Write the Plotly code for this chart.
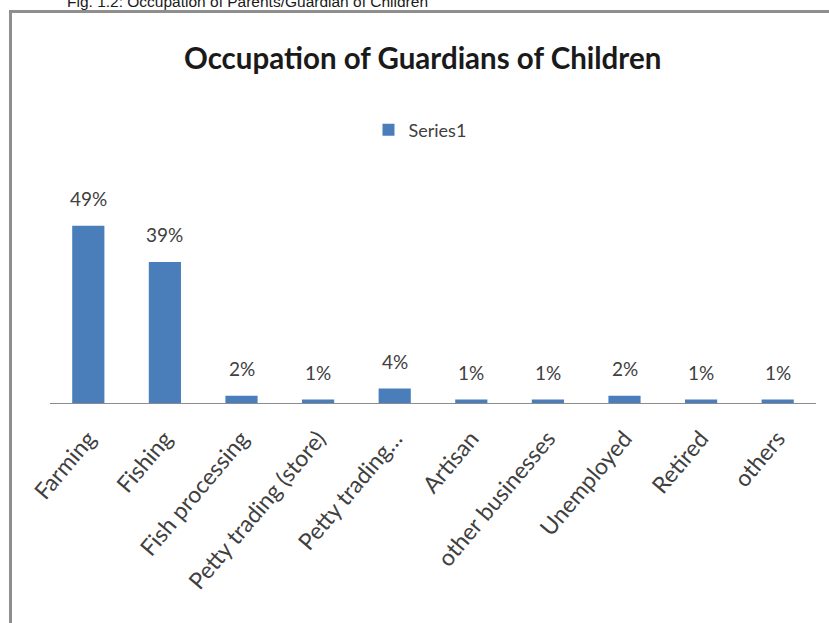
import plotly.graph_objects as go

categories = ["Farming", "Fishing", "Fish processing", "Petty trading (store)",
              "Petty trading…", "Artisan", "other businesses", "Unemployed",
              "Retired", "others"]
values = [49, 39, 2, 1, 4, 1, 1, 2, 1, 1]
labels = [f"{v}%" for v in values]

W, H = 829, 623
px = lambda x: x / W
py = lambda y: 1 - y / H
FONT = "Lato, sans-serif"

fig = go.Figure()
fig.add_trace(go.Bar(
    x=categories, y=values, name="Series1",
    marker=dict(color="#4A7EBB", line=dict(width=0)),
    cliponaxis=False,
))

data_labels = [
    dict(x=c, y=v, text=t, xref="x", yref="y", showarrow=False, yanchor="middle",
         yshift=27, font=dict(family=FONT, size=19, color="#404040"))
    for c, v, t in zip(categories, values, labels)
]

fig.update_layout(
    width=W, height=H,
    margin=dict(l=0, r=0, t=0, b=0),
    paper_bgcolor="white", plot_bgcolor="white",
    bargap=0.58,
    showlegend=True,
    legend=dict(orientation="h", x=px(420), xanchor="center", y=py(130), yanchor="middle",
                font=dict(family=FONT, size=18, color="#404040"),
                itemwidth=30),
    xaxis=dict(domain=[px(50), px(816)], showline=True, linecolor="#8C8C8C", linewidth=1,
               ticks="", tickangle=-50, automargin=False, ticklabelstandoff=12,
               tickfont=dict(family=FONT, size=23, color="#404040")),
    yaxis=dict(domain=[py(403), py(204)], range=[0, 55], visible=False, showgrid=False,
               automargin=False),
    annotations=data_labels + [
        dict(text="<b>Occupation of Guardians of Children</b>", xref="paper", yref="paper",
             x=px(422), y=py(58), xanchor="center", yanchor="middle", showarrow=False,
             font=dict(family=FONT, size=29.5, color="#1a1a1a")),
        dict(text="Fig. 1.2: Occupation of Parents/Guardian of Children", xref="paper", yref="paper",
             x=px(247), y=py(2), xanchor="center", yanchor="middle", showarrow=False,
             font=dict(family="Liberation Sans, Arial, sans-serif", size=15.5, color="#1a1a1a")),
    ],
    shapes=[
        dict(type="rect", xref="paper", yref="paper", x0=px(10.5), x1=px(840), y0=py(640), y1=py(11.5),
             line=dict(color="#8F8F8F", width=3), fillcolor="rgba(0,0,0,0)", layer="below"),
    ],
)

fig.write_html("out.html", config={"displayModeBar": False},
               post_script="document.body.style.margin='0';document.body.style.padding='0';")
